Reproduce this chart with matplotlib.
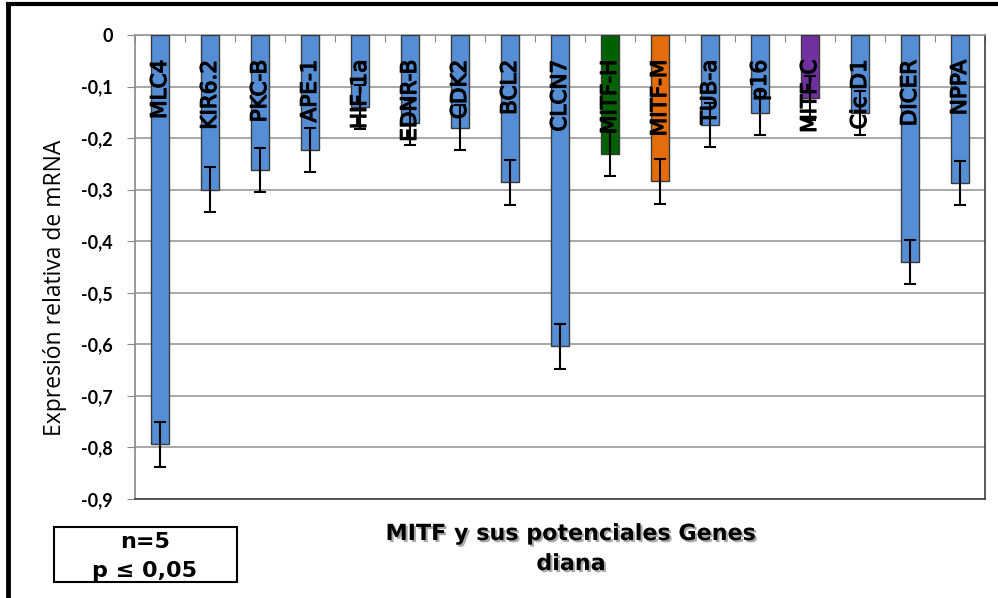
import numpy as np
import matplotlib.pyplot as plt
import matplotlib.patheffects as pe
from matplotlib.lines import Line2D
from matplotlib.patches import Rectangle

genes = ["MLC4", "KIR6.2", "PKC-B", "APE-1", "HIF-1a", "EDNR-B", "CDK2", "BCL2",
         "CLCN7", "MITF-H", "MITF-M", "TUB-a", "p16", "MITF-C", "Cic D1", "DICER", "NPPA"]
expr = [-0.794, -0.300, -0.262, -0.223, -0.140, -0.170, -0.180, -0.286,
        -0.604, -0.231, -0.284, -0.175, -0.151, -0.122, -0.151, -0.440, -0.287]
err = [0.043, 0.043, 0.043, 0.043, 0.043, 0.044, 0.044, 0.043,
       0.043, 0.043, 0.043, 0.043, 0.043, 0.043, 0.043, 0.043, 0.043]

blue = "#558ED5"
colors = [blue] * len(genes)
colors[genes.index("MITF-H")] = "#006100"
colors[genes.index("MITF-M")] = "#E46C0A"
colors[genes.index("MITF-C")] = "#7030A0"

yticks = np.arange(0, -0.95, -0.1)
yticklabels = ["0"] + [("%.1f" % v).replace(".", ",") for v in yticks[1:]]

fig = plt.figure(figsize=(9.98, 5.98), dpi=100)
ax = fig.add_axes([135 / 998, 1 - 499 / 598, 850 / 998, 464 / 598])

x = np.arange(len(genes))
ax.bar(x, expr, width=0.37, color=colors, edgecolor="#3a3a3a", linewidth=1.0, zorder=3)
ax.errorbar(x, expr, yerr=err, fmt="none", ecolor="black", elinewidth=1.5,
            capsize=4, capthick=1.5, zorder=4)

# gene names written inside the bars (narrow face, thickened a little)
heavy = [pe.withStroke(linewidth=0.9, foreground="black")]
for xi, name in zip(x, genes):
    ax.text(xi, -0.048, name, rotation=90, ha="center", va="top",
            fontsize=15.5, family=["Liberation Sans Narrow", "DejaVu Sans"],
            color="black", path_effects=heavy, zorder=5)

ax.set_xlim(-0.5, len(genes) - 0.5)
ax.set_ylim(-0.9, 0)
ax.set_yticks(yticks)
ax.set_yticklabels(yticklabels, fontsize=13, fontweight="bold", family="Lato")
ax.tick_params(axis="y", length=6, color="#888888", pad=10)
ax.yaxis.grid(True, color="#999999", linewidth=1.2, zorder=0)

ax.xaxis.set_ticks_position("top")
ax.set_xticks(np.arange(-0.5, len(genes) - 0.4, 1))
ax.set_xticklabels([])
ax.tick_params(axis="x", direction="in", length=5, color="#888888")

ax.spines["left"].set_color("#888888")
ax.spines["top"].set_color("#999999")
ax.spines["bottom"].set_color("#404040")
ax.spines["right"].set_color("#404040")
for s in ax.spines.values():
    s.set_linewidth(1.2)

fig.text(55 / 998, 1 - 288 / 598, "Expresión relativa de mRNA", rotation=90,
         ha="center", va="center", fontsize=16.5, family="Open Sans")

shadow = [pe.withSimplePatchShadow(offset=(1.5, -1.5), shadow_rgbFace="#555555", alpha=0.5)]
fig.text(571 / 998, 1 - 534 / 598, "MITF y sus potenciales Genes", ha="center",
         va="center", fontsize=16, fontweight="bold", family="DejaVu Sans",
         path_effects=shadow)
fig.text(571 / 998, 1 - 564 / 598, "diana", ha="center", va="center", fontsize=16,
         fontweight="bold", family="DejaVu Sans", path_effects=shadow)

# n / p box
fig.patches.append(Rectangle((54 / 998, 1 - 582 / 598), 183 / 998, 55 / 598,
                             transform=fig.transFigure, fill=False,
                             edgecolor="black", linewidth=1.5))
fig.text(145 / 998, 1 - 542 / 598, "n=5", ha="center", va="center", fontsize=16,
         fontweight="bold", family="DejaVu Sans")
fig.text(145 / 998, 1 - 571 / 598, "p ≤ 0,05", ha="center", va="center", fontsize=16,
         fontweight="bold", family="DejaVu Sans")

# outer frame (top and left edges)
fig.lines.append(Line2D([8 / 998, 1], [1 - 4 / 598, 1 - 4 / 598],
                        transform=fig.transFigure, color="black", linewidth=3))
fig.lines.append(Line2D([8 / 998, 8 / 998], [0, 1 - 4 / 598],
                        transform=fig.transFigure, color="black", linewidth=3.5))

fig.savefig("out.png", dpi=100)
